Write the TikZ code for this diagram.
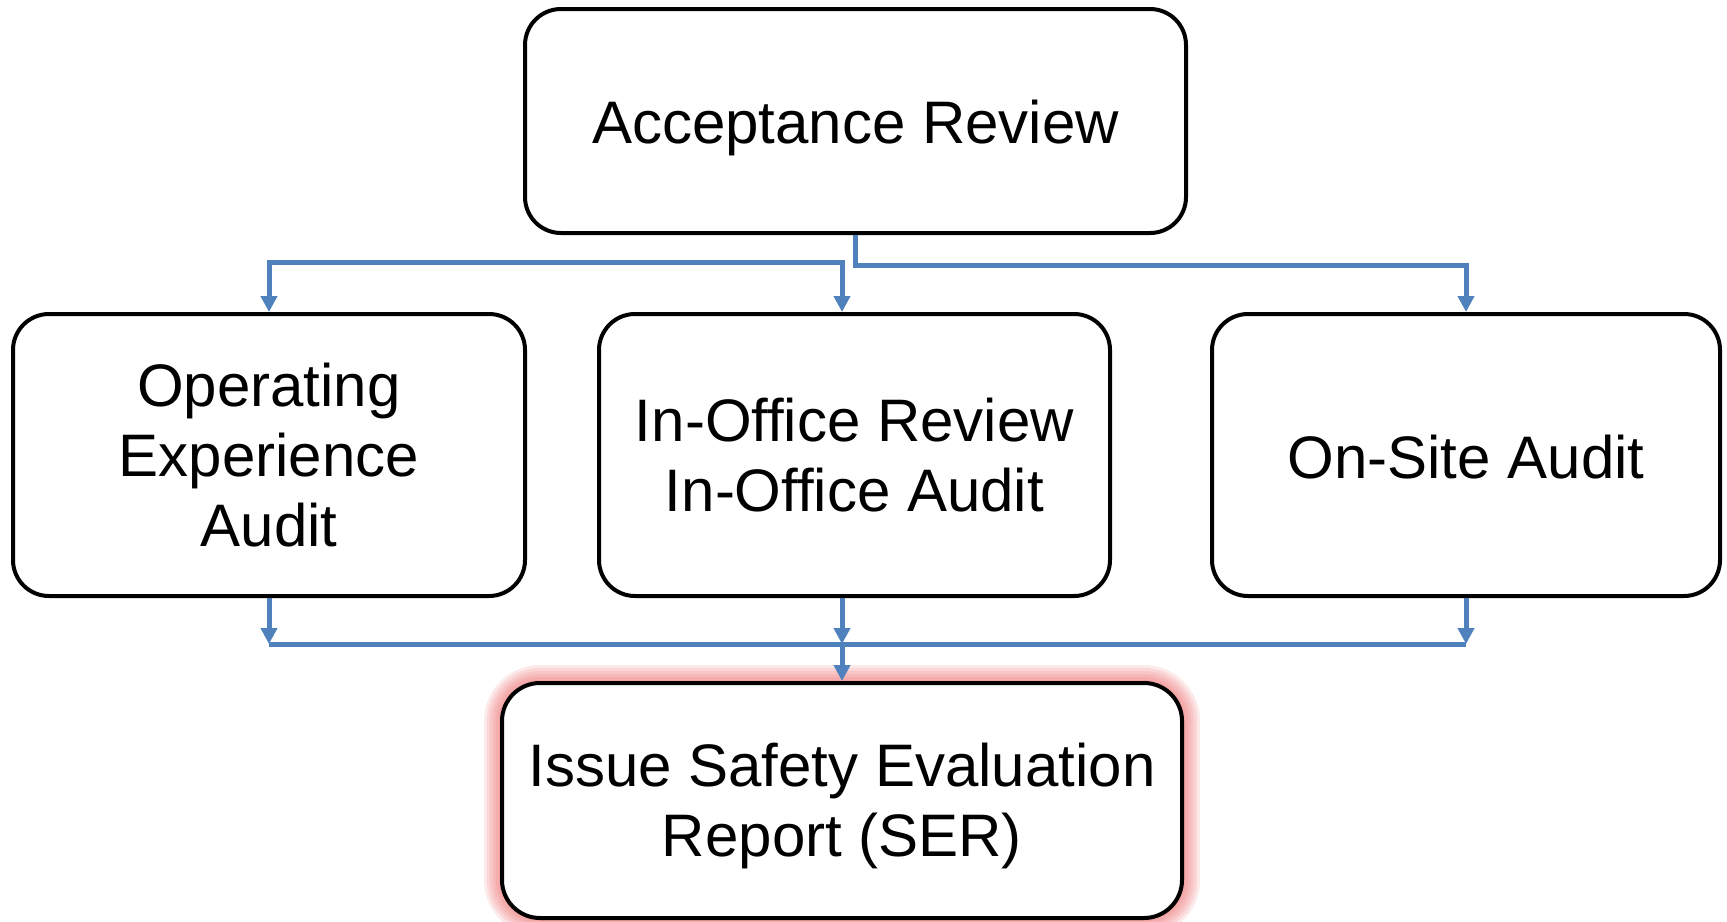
\documentclass[tikz,border=0pt]{standalone}
\usepackage{fontspec}
\setmainfont{Liberation Sans}
\usetikzlibrary{arrows.meta,calc}
\definecolor{conblue}{RGB}{79,129,189}
\definecolor{glowred}{RGB}{238,105,105}
\tikzset{
  box/.style={draw=black, line width=2pt, fill=white, rounded corners=18pt,
    align=center, inner sep=0pt, font=\fontsize{30}{35}\selectfont},
  conn/.style={draw=conblue, line width=2.5pt},
  tip/.style={conn, -{Triangle[width=8pt,length=8pt]}},
  tipboth/.style={conn, {Triangle[width=8pt,length=8pt]}-{Triangle[width=8pt,length=8pt]}},
}
\begin{document}
\begin{tikzpicture}[x=0.5pt,y=-0.5pt]
\useasboundingbox (0,0) rectangle (1727,921);
\fill[white] (0,0) rectangle (1727,921);

\node[box, minimum width=330.5pt, minimum height=112pt] (acc) at (855.5,121) {\raisebox{-3.3pt}[\height][\depth]{Acceptance Review}};
\node[box, minimum width=256pt, minimum height=141pt] (oe) at (269,455) {Operating\\Experience\\Audit};
\node[box, minimum width=255.5pt, minimum height=141pt] (io) at (854.5,455) {In-Office Review\\In-Office Audit};
\node[box, minimum width=254pt, minimum height=141pt] (os) at (1466,455) {\raisebox{-1pt}[\height][\depth]{On-Site Audit}};

% glow behind SER
\coordinate (sersw) at (502,918);
\coordinate (serne) at (1182,683);
\foreach \w in {18,15,12,9,6,3}{
  \draw[glowred, opacity=0.14, line width=\w pt, rounded corners=19pt] (sersw) rectangle (serne);
}
\node[box, rounded corners=19pt, minimum width=340pt, minimum height=117.5pt] (ser) at (842,800.5)
  {\raisebox{-3.3pt}[\height][\depth]{\begin{tabular}{@{}c@{}}Issue Safety Evaluation\\Report (SER)\end{tabular}}};

% named coordinates
\coordinate (topbus) at (842,262);
\coordinate (bus) at (842,644);
\coordinate (iotop) at (topbus |- io.north);
\coordinate (iobot) at (bus |- io.south);

% top connectors
\draw[tip] (acc.south) -- ++(0,30) -| (os.north);
\draw[tipboth] (oe.north) |- (topbus) -- (iotop);

% bottom connectors
\draw[conn] (oe.south |- bus) -- (os.south |- bus);
\draw[tip] (oe.south) -- (oe.south |- bus);
\draw[tip] (iobot) -- (bus);
\draw[tip] (os.south) -- (os.south |- bus);
\draw[tip] (bus) -- (ser.north -| bus);
\end{tikzpicture}
\end{document}
